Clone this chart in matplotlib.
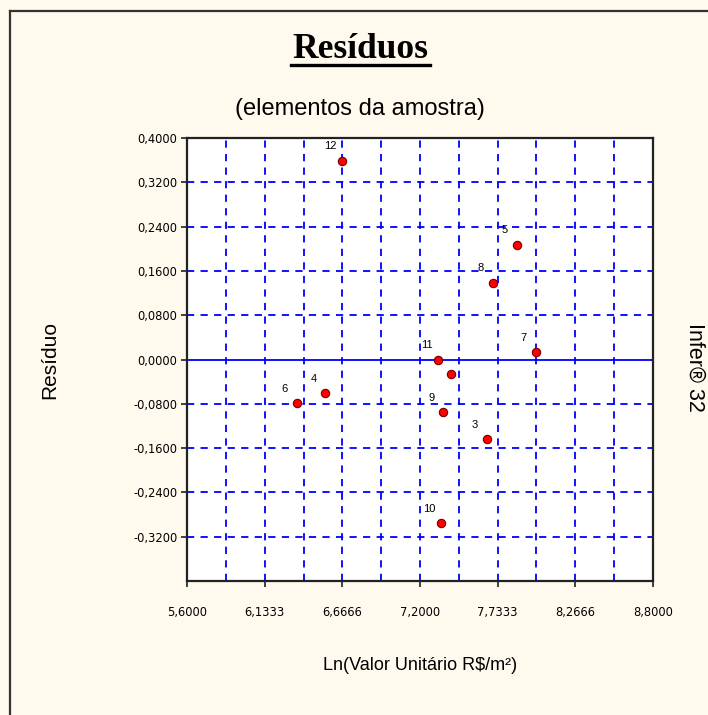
import matplotlib
matplotlib.use("Agg")
import matplotlib.pyplot as plt
import numpy as np
from matplotlib.lines import Line2D

# residuals per sample element
elementos = ["12", "5", "8", "7", "11", "", "6", "4", "9", "3", "10"]
ln_valor = [6.667, 7.864, 7.699, 7.995, 7.326, 7.411, 6.353, 6.550, 7.360, 7.658, 7.347]
residuo = [0.359, 0.207, 0.139, 0.013, 0.000, -0.026, -0.079, -0.061, -0.095, -0.144, -0.296]

x_ticks = [5.6, 6.1333, 6.6666, 7.2, 7.7333, 8.2666, 8.8]
x_ticklabels = ["5,6000", "6,1333", "6,6666", "7,2000", "7,7333", "8,2666", "8,8000"]
y_ticks = [0.4, 0.32, 0.24, 0.16, 0.08, 0.0, -0.08, -0.16, -0.24, -0.32]
y_ticklabels = ["0,4000", "0,3200", "0,2400", "0,1600", "0,0800", "0,0000",
                "-0,0800", "-0,1600", "-0,2400", "-0,3200"]

bg = "#FFF9EE"
fig = plt.figure(figsize=(7.08, 7.15), dpi=100, facecolor=bg)
ax = fig.add_axes([187 / 708, 1 - 581 / 715, 466 / 708, 443 / 715])
ax.set_facecolor("white")

ax.set_xlim(5.6, 8.8)
ax.set_ylim(-0.4, 0.4)

# vertical grid every half tick step, horizontal grid at each tick
for gx in np.linspace(5.6, 8.8, 13)[1:-1]:
    ax.axvline(gx, color="#0000FF", lw=1.3, ls=(0, (4, 3.5)), zorder=1)
for gy in y_ticks:
    if gy == 0.0:
        ax.axhline(gy, color="#0000FF", lw=1.3, zorder=1)
    elif gy < 0.4:
        ax.axhline(gy, color="#0000FF", lw=1.3, ls=(0, (4, 3.5)), zorder=1)

ax.scatter(ln_valor, residuo, s=36, marker="o", color="#FF0000",
           edgecolors="#700000", linewidths=0.8, zorder=3)
for lab, x, y in zip(elementos, ln_valor, residuo):
    if lab:
        ax.annotate(lab, (x, y), xytext=(-8.5, 10.5), textcoords="offset points",
                    ha="center", va="center", fontsize=8, family="Liberation Sans",
                    zorder=4)

ax.set_xticks(x_ticks)
ax.set_xticklabels(x_ticklabels, family="DejaVu Sans", fontsize=8.3)
ax.set_yticks(y_ticks)
ax.set_yticklabels(y_ticklabels, family="DejaVu Sans", fontsize=8.3)
ax.tick_params(axis="both", direction="out", length=4, width=1.2, color="#222222")
ax.tick_params(axis="x", pad=14)
ax.tick_params(axis="y", pad=3)
for sp in ax.spines.values():
    sp.set_color("#222222")
    sp.set_linewidth(1.6)

ax.set_xlabel("Ln(Valor Unitário R$/m²)", family="Liberation Sans", fontsize=13,
              labelpad=27)

fig.text(50 / 708, 1 - 360 / 715, "Resíduo", rotation=90, ha="center", va="center",
         family="Liberation Sans", fontsize=15)
fig.text(695 / 708, 1 - 367 / 715, "Infer® 32", rotation=270, ha="center", va="center",
         family="Liberation Sans", fontsize=15.5)

fig.text(360 / 708, 1 - 50 / 715, "Resíduos", ha="center", va="center",
         family="Liberation Serif", fontweight="bold", fontsize=25.5)
fig.add_artist(Line2D([291 / 708, 430 / 708], [1 - 65 / 715, 1 - 65 / 715],
                      color="black", lw=2.4))
fig.text(360 / 708, 1 - 109 / 715, "(elementos da amostra)", ha="center", va="center",
         family="Liberation Sans", fontsize=17)

# outer frame (left and top edges)
fig.add_artist(Line2D([9.5 / 708, 9.5 / 708], [0, 1 - 10.5 / 715], color="#333333", lw=1.6))
fig.add_artist(Line2D([9.5 / 708, 1], [1 - 10.5 / 715, 1 - 10.5 / 715], color="#333333", lw=1.6))

fig.savefig("out.png", dpi=100, facecolor=bg)
